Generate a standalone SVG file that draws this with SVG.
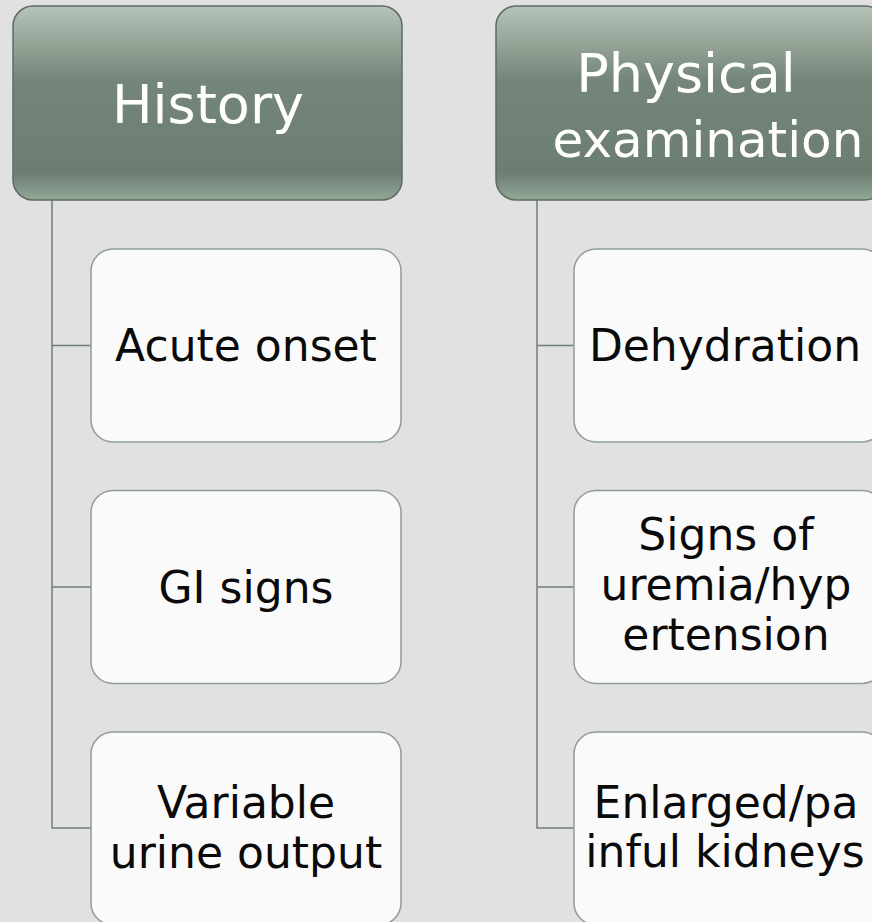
<svg xmlns="http://www.w3.org/2000/svg" width="872" height="922" viewBox="0 0 872 922">
<defs>
<linearGradient id="hdr" x1="0" y1="0" x2="0" y2="1">
<stop offset="0" stop-color="#b5c4b8"/>
<stop offset="0.38" stop-color="#748679"/>
<stop offset="0.86" stop-color="#6c7d72"/>
<stop offset="1" stop-color="#92a898"/>
</linearGradient>
</defs>
<style>
.hdr{fill:url(#hdr);stroke:#5c6c61;stroke-width:1.5}
.box{fill:#fafafa;stroke:#8e9f92;stroke-width:1.5}
.ht{font-family:"DejaVu Sans",sans-serif;font-size:54px;fill:#ffffff;text-anchor:middle}
.ct{font-family:"DejaVu Sans",sans-serif;font-size:44px;fill:#0a0a0a;text-anchor:middle}
.con{fill:none;stroke:#6f7f74;stroke-width:1.5}
</style>
<rect width="872" height="922" fill="#e1e1e1"/>
<g id="connectors">
<path class="con" d="M52,200 V828 H91 M52,345.5 H91 M52,587 H91"/>
<path class="con" d="M537,200 V828 H574 M537,345.5 H574 M537,587 H574"/>
</g>
<g id="history">
<rect class="hdr" x="13" y="6" width="389" height="194" rx="20"/>
<text class="ht" x="208" y="123">History</text>
</g>
<g id="physical">
<rect class="hdr" x="496" y="6" width="389" height="194" rx="20"/>
<text class="ht" x="686" y="92">Physical</text>
<text class="ht" x="708" y="157" style="font-size:50px">examination</text>
</g>
<g id="acute">
<rect class="box" x="91" y="249" width="310" height="193" rx="22"/>
<text class="ct" x="246" y="361">Acute onset</text>
</g>
<g id="gi">
<rect class="box" x="91" y="490.5" width="310" height="193" rx="22"/>
<text class="ct" x="246" y="603">GI signs</text>
</g>
<g id="variable">
<rect class="box" x="91" y="732" width="310" height="193" rx="22"/>
<text class="ct" x="246" y="818">Variable</text>
<text class="ct" x="246" y="868">urine output</text>
</g>
<g id="dehydration">
<rect class="box" x="574" y="249" width="310" height="193" rx="22"/>
<text class="ct" x="725" y="361">Dehydration</text>
</g>
<g id="uremia">
<rect class="box" x="574" y="490.5" width="310" height="193" rx="22"/>
<text class="ct" x="726" y="550">Signs of</text>
<text class="ct" x="726" y="600">uremia/hyp</text>
<text class="ct" x="726" y="650">ertension</text>
</g>
<g id="kidneys">
<rect class="box" x="574" y="732" width="310" height="193" rx="22"/>
<text class="ct" x="726" y="818">Enlarged/pa</text>
<text class="ct" x="725" y="867">inful kidneys</text>
</g>
</svg>
